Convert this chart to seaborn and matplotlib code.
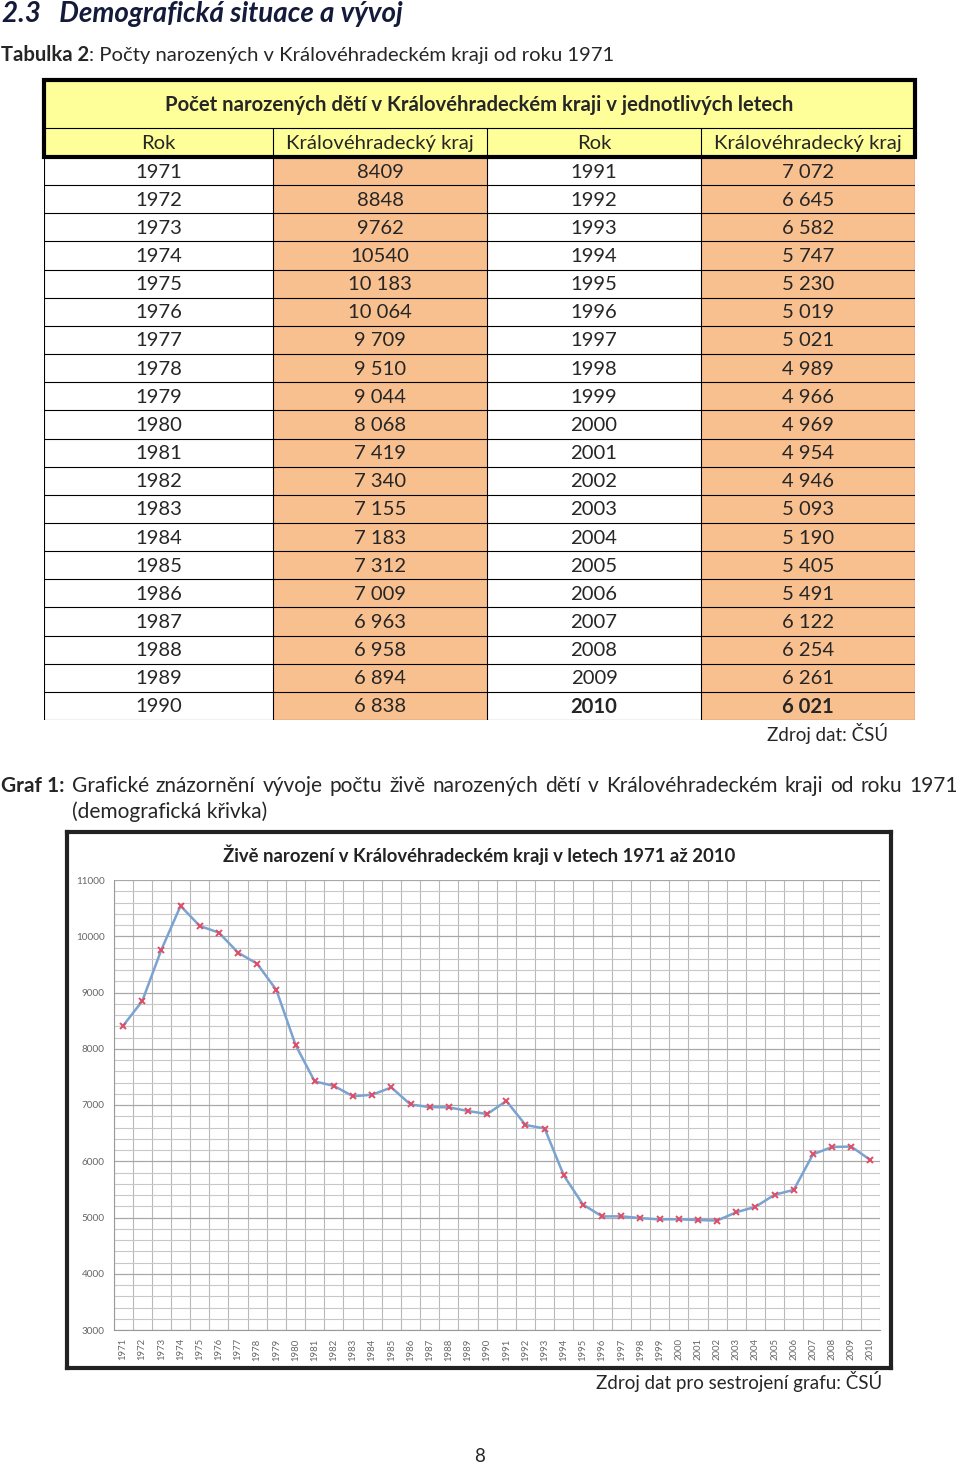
import numpy as np
import pandas as pd
import matplotlib.pyplot as plt
import matplotlib.transforms as mtransforms
from matplotlib.patches import Rectangle
from matplotlib.ticker import MultipleLocator
import seaborn as sns

# data
years = list(range(1971, 2011))
births = [8409, 8848, 9762, 10540, 10183, 10064, 9709, 9510, 9044, 8068,
          7419, 7340, 7155, 7183, 7312, 7009, 6963, 6958, 6894, 6838,
          7072, 6645, 6582, 5747, 5230, 5019, 5021, 4989, 4966, 4969,
          4954, 4946, 5093, 5190, 5405, 5491, 6122, 6254, 6261, 6021]
col_headers = ["Rok", "Královéhradecký kraj", "Rok", "Královéhradecký kraj"]
table_title = "Počet narozených dětí v Královéhradeckém kraji v jednotlivých letech"
chart_title = "Živě narození v Královéhradeckém kraji v letech 1971 až 2010"

df = pd.DataFrame({"rok": years, "pocet": births})

sns.set_style("white")
plt.rcParams['font.family'] = ['Lato', 'DejaVu Sans']

W, H = 960, 1467
fig = plt.figure(figsize=(W / 100, H / 100), dpi=100)
fig.patch.set_facecolor("white")
px = mtransforms.IdentityTransform()
renderer = fig.canvas.get_renderer()

FS = 14.6


def rect(x0, y0, x1, y1):
    return [x0 / W, 1 - y1 / H, (x1 - x0) / W, (y1 - y0) / H]


def put(x, y, s, **kw):
    return fig.text(x, H - y, s, transform=px, **kw)


def width_of(t):
    return t.get_window_extent(renderer).width


# headings
put(2, 14, "2.3   Demografická situace a vývoj", fontsize=20, fontweight="bold",
    fontstyle="italic", va="center", color="#141a3a")

t1 = put(1, 55, "Tabulka 2", fontsize=FS, fontweight="bold", va="center")
put(1 + width_of(t1), 55, ": Počty narozených v Královéhradeckém kraji od roku 1971",
    fontsize=FS, va="center")

# table
col_w = [229, 214, 214, 214]
col_x = np.concatenate([[0], np.cumsum(col_w)])
h1, h2 = 48, 29
rh = 28.15
n_rows = 20
tab_h = h1 + h2 + n_rows * rh
tax = fig.add_axes(rect(44, 80, 915, 80 + tab_h))
tax.set_xlim(0, col_x[-1])
tax.set_ylim(tab_h, 0)
tax.axis("off")

yellow = "#FFFF99"
orange = "#F9C08F"
tax.add_patch(Rectangle((0, 0), col_x[-1], h1 + h2, facecolor=yellow, edgecolor="none"))
tax.text(col_x[-1] / 2, h1 / 2 + 1, table_title, ha="center", va="center",
         fontsize=FS, fontweight="bold")
for j, name in enumerate(col_headers):
    tax.text((col_x[j] + col_x[j + 1]) / 2, h1 + h2 / 2 + 1, name, ha="center",
             va="center", fontsize=FS)
    if j > 0:
        tax.plot([col_x[j], col_x[j]], [h1, h1 + h2], color="black", lw=0.8)
tax.plot([0, col_x[-1]], [h1, h1], color="black", lw=0.8)


def fmt(v, yr):
    if yr <= 1974:
        return str(v)
    return f"{v:,}".replace(",", " ")


top = h1 + h2
for i in range(n_rows):
    y0 = top + i * rh
    for half in range(2):
        k = i + half * n_rows
        xc = col_x[2 * half]
        tax.add_patch(Rectangle((col_x[2 * half + 1], y0), col_w[2 * half + 1], rh,
                                facecolor=orange, edgecolor="none"))
        bold = "bold" if years[k] == 2010 else "normal"
        tax.text((xc + col_x[2 * half + 1]) / 2, y0 + rh / 2 + 1, str(years[k]),
                 ha="center", va="center", fontsize=FS, fontweight=bold)
        tax.text((col_x[2 * half + 1] + col_x[2 * half + 2]) / 2, y0 + rh / 2 + 1,
                 fmt(births[k], years[k]), ha="center", va="center", fontsize=FS,
                 fontweight=bold)
    tax.plot([0, col_x[-1]], [y0 + rh, y0 + rh], color="black", lw=0.8)
for xv in col_x:
    tax.plot([xv, xv], [top, tab_h], color="black", lw=0.8)
tax.add_patch(Rectangle((0, 0), col_x[-1], h1 + h2, facecolor="none",
                        edgecolor="black", lw=3, clip_on=False))

put(888, 733, "Zdroj dat: ČSÚ", fontsize=13.5, ha="right", va="center")

# justified caption line
words = ["Grafické", "znázornění", "vývoje", "počtu", "živě", "narozených", "dětí",
         "v", "Královéhradeckém", "kraji", "od", "roku", "1971"]
tb = put(1, 786, "Graf 1:", fontsize=15, fontweight="bold", va="center")
wt = [put(0, 786, w, fontsize=15, va="center") for w in words]
wb = width_of(tb)
ws = [width_of(t) for t in wt]
x_start, x_end = 1 + wb, 958
gap = (x_end - x_start - sum(ws)) / len(ws)
xcur = x_start + gap
for t, w in zip(wt, ws):
    t.set_x(xcur)
    xcur += w + gap
put(72, 812, "(demografická křivka)", fontsize=15, va="center")

# chart frame
fax = fig.add_axes(rect(67, 832, 891, 1368))
fax.set_xticks([])
fax.set_yticks([])
for sp in fax.spines.values():
    sp.set_linewidth(3)
    sp.set_color("#222222")
fax.text(0.5, 1 - 23 / 536, chart_title, transform=fax.transAxes, ha="center",
         va="center", fontsize=13.3, fontweight="bold", color="#222222")

ax = fig.add_axes(rect(113.5, 880, 880, 1330))
ax.set_facecolor("none")
ax.set_xlim(years[0] - 0.5, years[-1] + 0.5)
ax.set_ylim(3000, 11000)
ax.yaxis.set_major_locator(MultipleLocator(1000))
ax.yaxis.set_minor_locator(MultipleLocator(200))
ax.set_xticks(years)
ax.set_xticks(np.arange(years[0] - 0.5, years[-1] + 1, 1), minor=True)
ax.grid(which="major", axis="y", color="#a8a8a8", lw=0.9)
ax.grid(which="minor", axis="y", color="#c8c8c8", lw=0.8)
ax.grid(which="minor", axis="x", color="#b8b8b8", lw=0.8)
ax.set_axisbelow(True)
ax.set_xticklabels([str(y) for y in years], rotation=90, fontsize=6.8, color="#666666")
ax.tick_params(axis="y", labelsize=7.2, labelcolor="#666666", length=3, color="#999999")
ax.tick_params(axis="x", length=0, pad=6)
ax.tick_params(which="minor", length=0)
for side in ["top", "right"]:
    ax.spines[side].set_visible(False)
for side in ["left", "bottom"]:
    ax.spines[side].set_color("#999999")

sns.lineplot(data=df, x="rok", y="pocet", ax=ax, color="#7aa3d0", lw=1.8,
             marker="x", markersize=5, markeredgecolor="#df4d66",
             markeredgewidth=1.4)
ax.set_xlabel("")
ax.set_ylabel("")

put(882, 1382, "Zdroj dat pro sestrojení grafu: ČSÚ", fontsize=13.5, ha="right", va="center")
put(480, 1457, "8", fontsize=13.5, ha="center", va="center")

fig.savefig("out.png", dpi=100)
